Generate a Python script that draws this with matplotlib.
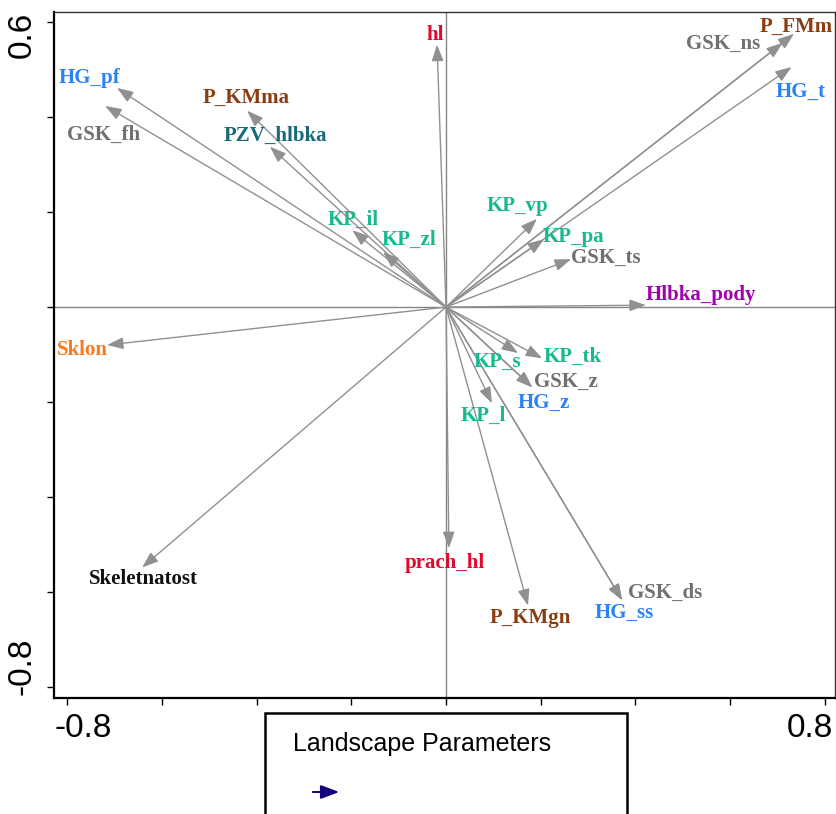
import matplotlib
matplotlib.use("Agg")
import matplotlib.pyplot as plt
from matplotlib.patches import Rectangle, FancyArrowPatch

# ordination scores (arrow tips) of landscape parameters
names = ["HG_pf", "GSK_fh", "P_KMma", "PZV_hlbka", "KP_il", "KP_zl", "hl",
         "P_FMm", "GSK_ns", "HG_t", "KP_vp", "KP_pa", "GSK_ts", "Hlbka_pody",
         "Sklon", "Skeletnatost", "KP_s", "KP_tk", "GSK_z", "HG_z", "KP_l",
         "prach_hl", "P_KMgn", "GSK_ds", "HG_ss"]
axis1 = [-0.695, -0.720, -0.420, -0.372, -0.198, -0.133, -0.019,
         0.735, 0.711, 0.730, 0.192, 0.207, 0.264, 0.422,
         -0.716, -0.642, 0.152, 0.203, 0.182, 0.182, 0.097,
         0.006, 0.173, 0.372, 0.372]
axis2 = [0.462, 0.424, 0.414, 0.338, 0.162, 0.116, 0.553,
         0.576, 0.557, 0.506, 0.186, 0.143, 0.101, 0.004,
         -0.080, -0.549, -0.097, -0.108, -0.169, -0.169, -0.203,
         -0.508, -0.629, -0.618, -0.618]

# label colour by parameter group
group_colors = {
    "HG": "#2a82f5", "GSK": "#707070", "P": "#8a3d12", "KP": "#17b98f",
    "PZV": "#176a7c", "hl": "#e0082e", "prach": "#e0082e",
    "Hlbka": "#a000b0", "Sklon": "#fb7a1c", "Skeletnatost": "#111111",
}
# label offsets from arrow tip (pixels)
label_offsets = {
    "HG_pf": (-27, 10), "GSK_fh": (-2, -29), "P_KMma": (-1, 13),
    "PZV_hlbka": (5, 11), "KP_il": (1, 10), "KP_zl": (26, 12), "hl": (-2, 10),
    "P_FMm": (2, 7), "GSK_ns": (-60, -1), "HG_t": (9, -25), "KP_vp": (-19, 13),
    "KP_pa": (29, 2), "GSK_ts": (35, 1), "Hlbka_pody": (55, 10),
    "Sklon": (-25, -5), "Skeletnatost": (1, -11), "KP_s": (-21, -9),
    "KP_tk": (31, 1), "GSK_z": (34, 5), "HG_z": (12, -16), "KP_l": (-9, -13),
    "prach_hl": (-4, -15), "P_KMgn": (2, -13), "GSK_ds": (43, 7), "HG_ss": (2, -13),
}

fig = plt.figure(figsize=(8.36, 8.14), dpi=100)
ax = fig.add_axes([0.0646, 0.1425, 0.9342, 0.8428])
ax.set_xlim(-0.828, 0.8215)
ax.set_ylim(-0.824, 0.622)

ax.axhline(0, color="#858585", lw=1.0, zorder=1)
ax.axvline(0, color="#858585", lw=1.0, zorder=1)

for name, x, y in zip(names, axis1, axis2):
    ax.annotate("", xy=(x, y), xytext=(0, 0),
                arrowprops=dict(arrowstyle="-|>,head_length=0.55,head_width=0.2",
                                mutation_scale=18, color="#909090", lw=1.0,
                                shrinkA=0, shrinkB=0), zorder=2)
    key = name.split("_")[0]
    dx, dy = label_offsets[name]
    ax.annotate(name, xy=(x, y), xytext=(dx, dy), textcoords="offset pixels",
                ha="center", va="center", fontsize=15, fontweight="bold",
                family="Liberation Serif", color=group_colors[key], zorder=3)

ax.set_xticks([-0.8, -0.6, -0.4, -0.2, 0, 0.2, 0.4, 0.6, 0.8])
ax.set_yticks([-0.8, -0.6, -0.4, -0.2, 0, 0.2, 0.4, 0.6])
ax.set_xticklabels([])
ax.set_yticklabels([])
ax.tick_params(direction="out", length=5, width=1, color="black")
for side in ("left", "bottom"):
    ax.spines[side].set_linewidth(1.6)
for side in ("top", "right"):
    ax.spines[side].set_linewidth(1.0)
    ax.spines[side].set_color("#333333")

tick_font = dict(family="Liberation Sans", fontsize=24, color="black")
ax.text(0.0, -0.044, "-0.8", transform=ax.transAxes, ha="left", va="center", **tick_font)
ax.text(0.997, -0.044, "0.8", transform=ax.transAxes, ha="right", va="center", **tick_font)
ax.text(-0.041, 1.0, "0.6", transform=ax.transAxes, ha="center", va="top", rotation=90, **tick_font)
ax.text(-0.041, 0.005, "-0.8", transform=ax.transAxes, ha="center", va="bottom", rotation=90, **tick_font)

# legend box at the bottom
fig.patches.append(Rectangle((265 / 836, -0.1), (627 - 265) / 836, 0.1 + (814 - 713) / 814,
                             transform=fig.transFigure, fill=False, edgecolor="black",
                             lw=1.8))
fig.text(293 / 836, 1 - 751 / 814, "Landscape Parameters", family="Liberation Sans",
         fontsize=18, va="baseline", ha="left")
fig.patches.append(FancyArrowPatch((310 / 836, 1 - 792 / 814), (342 / 836, 1 - 792 / 814),
                                   transform=fig.transFigure,
                                   arrowstyle="-|>,head_length=0.8,head_width=0.3",
                                   mutation_scale=14, color="#14007a", lw=1.4))

fig.savefig("out.png", dpi=100)
